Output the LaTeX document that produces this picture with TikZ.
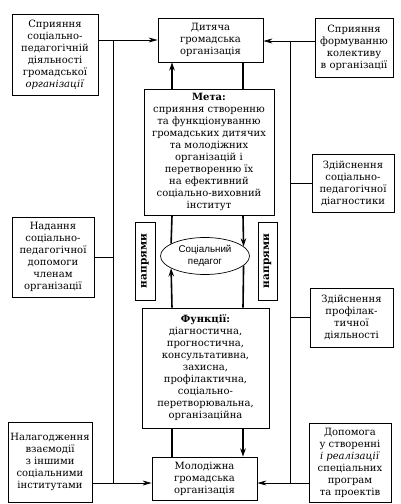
\documentclass[tikz,border=0pt]{standalone}
\usepackage{fontspec}
\setmainfont{DejaVu Serif}
\newfontfamily\pedfont{Liberation Sans}
\usetikzlibrary{arrows.meta,shapes.geometric}
\begin{document}
\begin{tikzpicture}[x=1pt,y=-1pt,
    box/.style={draw,line width=0.9pt,align=center,inner sep=1pt,
      font=\fontsize{10}{12}\selectfont},
    wh/.style 2 args={minimum width=#1,minimum height=#2},
    link/.style={line width=0.6pt},
    arr/.style={link,-{Stealth[length=9pt,width=5pt]}},
    main/.style={line width=1.6pt},
    marr/.style={main,-{Stealth[length=8pt,width=5.5pt]}}]
  \useasboundingbox (0,0) rectangle (401,504);
  % left column
  \node[box,wh={86pt}{81pt}] (spr) at (55,54.5)
    {Сприяння\\соціально-\\педагогічній\\діяльності\\громадської\\\textit{організації}};
  \node[box,wh={82pt}{80pt}] (nad) at (53,257)
    {Надання\\соціально-\\педагогічної\\допомоги\\членам\\організації};
  \node[box,wh={84pt}{80pt}] (nal) at (50,462)
    {Налагодження\\взаємодії\\з іншими\\соціальними\\інститутами};
  % right column
  \node[box,wh={78pt}{59pt}] (form) at (354,47.5)
    {Сприяння\\формуванню\\колективу\\в організації};
  \node[box,wh={82pt}{58pt}] (diag) at (353,183)
    {Здійснення\\соціально-\\педагогічної\\діагностики};
  \node[box,wh={83pt}{59pt}] (prof) at (351.5,317.5)
    {Здійснення\\профілак-\\тичної\\діяльності};
  \node[box,wh={82pt}{79pt}] (dop) at (350,462.5)
    {Допомога\\у створенні\\\textit{і реалізації}\\спеціальних\\програм\\та проектів};
  % middle column
  \node[box,wh={105pt}{44pt}] (dyt) at (210.5,40)
    {Дитяча\\громадська\\організація};
  \node[box,wh={130pt}{126pt}] (meta) at (209,152)
    {\textbf{Мета:}\\сприяння створенню\\та функціонуванню\\громадських дитячих\\та молодіжних\\організацій і\\перетворенню їх\\на ефективний\\соціально-виховний\\інститут};
  \node[box,ellipse,line width=0.7pt,wh={89pt}{37pt},font=\pedfont\fontsize{9.8}{12}\selectfont] (ped) at (205,256)
    {Соціальний\\педагог};
  \node[box,rotate=90,wh={78pt}{20pt},font=\fontsize{10.5}{12}\selectfont] (napl) at (145,261) {\textbf{напрями}};
  \node[box,rotate=90,wh={78pt}{19pt},font=\fontsize{10.5}{12}\selectfont] (napr) at (267.5,261) {\textbf{напрями}};
  \node[box,wh={127pt}{120pt}] (func) at (205.5,368)
    {\textbf{Функції:}\\діагностична,\\прогностична,\\консультативна,\\захисна,\\профілактична,\\соціально-\\перетворювальна,\\організаційна};
  \node[box,wh={105pt}{43pt}] (mol) at (204.5,478.5)
    {Молодіжна\\громадська\\організація};
  % connectors
  \coordinate (lt) at (113,40);
  \coordinate (lb) at (113,483);
  \coordinate (rt) at (290,41);
  \coordinate (rb) at (290,483);
  \coordinate (xl) at (172,0);
  \coordinate (xr) at (243,0);
  \draw[arr] (spr.east |- lt) -- (dyt.west |- lt);
  \draw[link] (lt) -- (lb);
  \draw[link] (nad.east) -- (nad.east -| lt);
  \draw[arr] (nal.east |- lb) -- (mol.west |- lb);
  \draw[arr] (form.west |- rt) -- (dyt.east |- rt);
  \draw[link] (rt) -- (rb);
  \draw[link] (diag.west) -- (diag.west -| rt);
  \draw[link] (prof.west) -- (prof.west -| rt);
  \draw[arr] (dop.west |- rb) -- (mol.east |- rb);
  \draw[marr] (meta.north -| xl) -- (dyt.south -| xl);
  \draw[main] (dyt.south -| xr) -- (meta.north -| xr);
  \draw[main] (meta.south -| xl) -- (ped.160);
  \draw[marr] (meta.south -| xr) -- (ped.14);
  \draw[marr] (func.north -| xl) -- (ped.200);
  \draw[main] (ped.-14) -- (func.north -| xr);
  \draw[main] (func.south -| xl) -- (mol.north -| xl);
  \draw[marr] (func.south -| xr) -- (mol.north -| xr);
\end{tikzpicture}
\end{document}
